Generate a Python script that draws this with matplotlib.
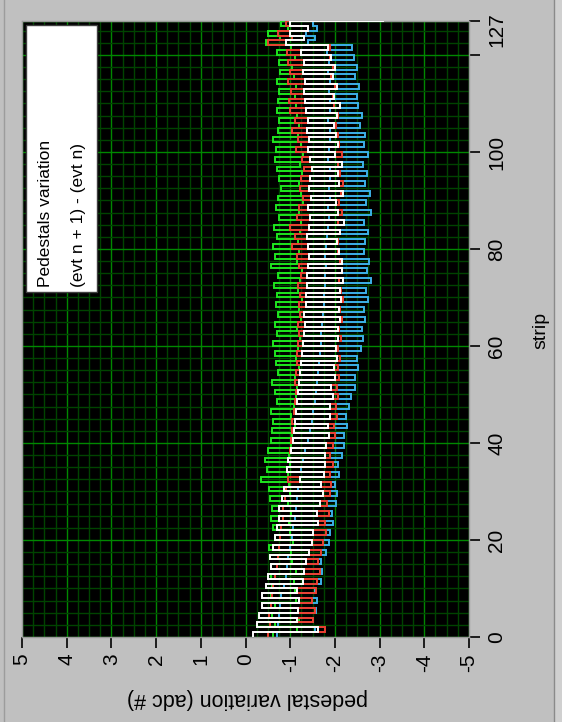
import matplotlib
matplotlib.use('Agg')
import matplotlib.pyplot as plt
import numpy as np
from matplotlib.patches import Rectangle
from matplotlib.lines import Line2D

plt.rcParams['font.family'] = ['Liberation Sans', 'DejaVu Sans']
plt.rcParams['axes.unicode_minus'] = False

# ---------------- data ----------------
strips = list(range(128))

white = [
    -0.17, -1.62, -0.25, -1.15, -0.30, -1.18, -0.36, -1.20, -0.38, -1.16,
    -0.45, -1.28, -0.50, -1.30, -0.58, -1.36, -0.55, -1.42, -0.62, -1.48,
    -0.66, -1.50, -0.70, -1.62, -0.74, -1.60, -0.76, -1.66, -0.82, -1.73,
    -0.86, -1.70, -1.22, -1.76, -0.92, -1.78, -0.96, -1.77, -1.02, -1.80,
    -1.06, -1.86, -1.08, -1.84, -1.10, -1.90, -1.12, -1.88, -1.16, -1.95,
    -1.18, -1.92, -1.20, -2.00, -1.22, -1.98, -1.25, -2.05, -1.26, -2.02,
    -1.28, -2.08, -1.30, -2.06, -1.32, -2.12, -1.30, -2.10, -1.35, -2.14,
    -1.36, -2.12, -1.38, -2.18, -1.37, -2.15, -1.40, -2.16, -1.42, -2.10,
    -1.40, -2.05, -1.38, -2.12, -1.42, -2.20, -1.44, -2.08, -1.40, -2.02,
    -1.46, -2.18, -1.42, -2.10, -1.45, -2.06, -1.48, -2.15, -1.44, -2.00,
    -1.40, -2.08, -1.42, -2.02, -1.38, -1.98, -1.40, -2.05, -1.35, -2.12,
    -1.33, -1.98, -1.30, -2.05, -1.32, -1.95, -1.28, -2.00, -1.30, -1.92,
    -1.25, -1.85, -0.90, -1.30, -1.00, -1.40, -1.00, -3.07,
]

red = [
    -0.50, -1.78, -0.55, -1.50, -0.52, -1.55, -0.58, -1.48, -0.60, -1.58,
    -0.62, -1.60, -0.65, -1.66, -0.70, -1.62, -0.72, -1.70, -0.76, -1.74,
    -0.78, -1.80, -0.80, -1.78, -0.84, -1.86, -0.85, -1.82, -0.88, -1.90,
    -0.90, -1.92, -0.95, -1.88, -0.92, -1.95, -0.96, -1.90, -1.00, -1.96,
    -1.02, -2.00, -1.05, -1.98, -1.04, -2.04, -1.08, -2.02, -1.10, -2.08,
    -1.12, -2.05, -1.10, -2.10, -1.14, -2.06, -1.16, -2.12, -1.15, -2.08,
    -1.18, -2.14, -1.20, -2.10, -1.17, -2.16, -1.22, -2.12, -1.20, -2.18,
    -1.22, -2.14, -1.18, -2.10, -1.24, -2.16, -1.20, -2.12, -1.15, -2.08,
    -1.05, -2.06, -1.10, -2.12, -1.00, -2.08, -1.15, -2.16, -1.20, -2.10,
    -1.28, -2.14, -1.22, -2.18, -1.25, -2.12, -1.30, -2.08, -1.26, -2.15,
    -1.12, -2.10, -1.18, -2.06, -1.05, -2.02, -1.10, -2.08, -1.00, -1.98,
    -0.98, -1.95, -1.02, -2.00, -0.96, -1.92, -1.00, -1.96, -0.95, -1.90,
    -0.92, -1.88, -0.50, -1.05, -0.72, -1.40, -0.90, -2.70,
]

green = [
    -0.62, -1.15, -0.65, -1.20, -0.60, -1.18, -0.66, -1.12, -0.58, -1.10,
    -0.60, -1.08, -0.56, -1.12, -0.58, -1.05, -0.55, -1.02, -0.52, -1.06,
    -0.66, -1.00, -0.62, -0.98, -0.58, -1.02, -0.60, -0.95, -0.55, -1.00,
    -0.52, -0.98, -0.35, -0.96, -0.48, -1.00, -0.44, -0.97, -0.50, -1.02,
    -0.57, -1.05, -0.60, -1.10, -0.62, -1.02, -0.58, -1.08, -0.70, -1.12,
    -0.65, -1.15, -0.60, -1.10, -0.72, -1.20, -0.68, -1.14, -0.66, -1.18,
    -0.62, -1.22, -0.70, -1.16, -0.66, -1.25, -0.73, -1.20, -0.68, -1.26,
    -0.70, -1.18, -0.64, -1.22, -0.72, -1.27, -0.57, -1.15, -0.66, -1.20,
    -0.62, -1.18, -0.70, -1.22, -0.64, -1.25, -0.75, -1.20, -0.68, -1.28,
    -0.72, -1.24, -0.80, -1.20, -0.76, -1.26, -0.70, -1.22, -0.66, -1.29,
    -0.68, -1.25, -0.62, -1.18, -0.72, -1.20, -0.74, -1.15, -0.70, -1.12,
    -0.72, -1.10, -0.75, -1.12, -0.70, -1.08, -0.77, -1.05, -0.74, -1.10,
    -0.70, -1.02, -0.45, -0.78, -0.50, -0.95, -0.80, -1.15,
]

blue = [
    -0.70, -1.55, -0.72, -1.50, -0.75, -1.58, -0.78, -1.60, -0.80, -1.56,
    -0.86, -1.68, -0.90, -1.72, -0.92, -1.70, -0.96, -1.80, -1.00, -1.86,
    -1.04, -1.90, -1.06, -1.96, -1.10, -1.94, -1.12, -2.02, -1.15, -2.05,
    -1.18, -2.00, -1.22, -2.10, -1.25, -2.06, -1.28, -2.16, -1.32, -2.20,
    -1.40, -2.20, -1.45, -2.28, -1.48, -2.25, -1.50, -2.32, -1.55, -2.36,
    -1.58, -2.45, -1.60, -2.44, -1.62, -2.52, -1.65, -2.50, -1.66, -2.58,
    -1.70, -2.62, -1.68, -2.60, -1.72, -2.68, -1.74, -2.66, -1.75, -2.74,
    -1.76, -2.70, -1.78, -2.80, -1.77, -2.72, -1.80, -2.76, -1.78, -2.66,
    -1.80, -2.68, -1.82, -2.74, -1.84, -2.64, -1.86, -2.80, -1.85, -2.70,
    -1.88, -2.78, -1.86, -2.68, -1.90, -2.72, -1.88, -2.63, -1.84, -2.74,
    -1.86, -2.64, -1.88, -2.68, -1.90, -2.56, -1.85, -2.60, -1.88, -2.52,
    -1.90, -2.50, -1.86, -2.54, -1.88, -2.45, -1.84, -2.50, -1.86, -2.42,
    -1.82, -2.38, -1.40, -1.55, -1.35, -1.60, -1.50, -2.80,
]

value_ticks = [5, 4, 3, 2, 1, 0, -1, -2, -3, -4, -5]
value_labels = ['5', '4', '3', '2', '1', '0', '-1', '-2', '-3', '-4', '-5']
strip_ticks = [0, 20, 40, 60, 80, 100, 120, 127]
strip_labels = ['0', '20', '40', '60', '80', '100', '', '']
strip_end_label = '127'

legend_lines = ['Pedestals variation', '(evt n + 1) - (evt n)']
value_title = 'pedestal variation (adc #)'
strip_title = 'strip'

# ---------------- figure ----------------
W, H = 562, 722
fig = plt.figure(figsize=(W / 100, H / 100), dpi=100, facecolor='#c0c0c0')

def fx(px):
    return px / W

def fy(py):
    return 1 - py / H

left_px, right_px, top_px, bottom_px = 22, 469, 21, 637
ax = fig.add_axes([fx(left_px), fy(bottom_px),
                   (right_px - left_px) / W, (bottom_px - top_px) / H])
ax.set_facecolor('black')
ax.set_xlim(5, -5)
ax.set_ylim(0, 127)

# grid
ax.set_xticks(value_ticks)
ax.set_xticklabels(value_labels)
ax.set_xticks(np.arange(-5, 5.001, 0.25), minor=True)
ax.yaxis.tick_right()
ax.set_yticks(strip_ticks)
ax.set_yticklabels(strip_labels)
ax.set_yticks(np.arange(0, 127.01, 2.5), minor=True)
ax.set_axisbelow(True)
ax.grid(which='minor', color='#004400', lw=1.0)
ax.grid(which='major', color='#008800', lw=1.0)

ax.tick_params(which='minor', length=0)
ax.tick_params(axis='x', which='major', direction='out', length=8, width=1.2,
               color='black', labelrotation=90, pad=4, labelsize=15,
               labelcolor='black')
ax.tick_params(axis='y', which='major', direction='out', length=8, width=1.2,
               color='black', labelrotation=90, pad=5, labelsize=15,
               labelcolor='black', right=True, left=False)
for lab in ax.get_yticklabels():
    lab.set_va('center')

# end label of strip scale, shifted inward as LabVIEW does
ax.annotate(strip_end_label, xy=(1, 127), xycoords=('axes fraction', 'data'),
            xytext=(18, -9), textcoords='offset pixels', rotation=90,
            ha='left', va='center', fontsize=15, color='black',
            annotation_clip=False)

for sp in ax.spines.values():
    sp.set_color('#9a9a9a')
    sp.set_linewidth(1.0)

# series (step plots)
series = [(blue, '#3cb0e8', 3), (green, '#1ee61e', 4),
          (red, '#ec4032', 5), (white, '#ffffff', 6)]
for vals, col, z in series:
    ax.plot(vals, strips, drawstyle='steps-pre', color=col, lw=1.4,
            zorder=z, solid_joinstyle='miter')

# legend box
box = Rectangle((fx(26), fy(292)), (97 - 26) / W, (292 - 25) / H,
                transform=fig.transFigure, facecolor='white',
                edgecolor='#404040', lw=1.0, zorder=20, clip_on=False)
ax.add_patch(box)
for txt, cx in zip(legend_lines, [46, 79]):
    ax.text(fx(cx), fy(287), txt, transform=fig.transFigure, rotation=90,
            rotation_mode='anchor', ha='left', va='center', fontsize=12.5,
            color='black', zorder=21, clip_on=False)

# axis titles
fig.text(fx(247), fy(698), value_title, rotation=180, ha='center',
         va='center', fontsize=15.5, color='black')
fig.text(fx(541), fy(330), strip_title, rotation=90, ha='center',
         va='center', fontsize=14, color='black')

# panel frame lines
fig.add_artist(Line2D([fx(4), fx(4)], [0, 1], color='#9c9c9c', lw=1.0))
fig.add_artist(Line2D([fx(554), fx(554)], [0, 1], color='#8a8a8a', lw=1.0))
fig.add_artist(Rectangle((fx(555), 0), 7 / W, 1, transform=fig.transFigure,
                         facecolor='#d0d0d0', edgecolor='none'))

fig.savefig('out.png', dpi=100, facecolor=fig.get_facecolor())
